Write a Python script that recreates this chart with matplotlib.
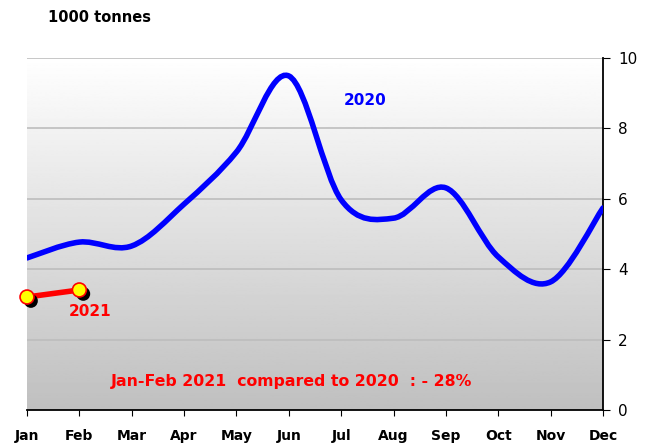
import numpy as np
import matplotlib.pyplot as plt
from matplotlib.path import Path
from matplotlib.patches import PathPatch
import matplotlib.patheffects as pe

months = ['Jan', 'Feb', 'Mar', 'Apr', 'May', 'Jun', 'Jul', 'Aug', 'Sep', 'Oct', 'Nov', 'Dec']
v2020 = [4.32, 4.77, 4.66, 5.85, 7.33, 9.49, 5.97, 5.45, 6.31, 4.35, 3.64, 5.74]
v2021 = [3.21, 3.41]
yticks = [0, 2, 4, 6, 8, 10]


def smooth_path(xs, ys, t=1/6.):
    # cubic bezier through points (catmull-rom style control points)
    n = len(xs)
    verts = [(xs[0], ys[0])]
    codes = [Path.MOVETO]
    for i in range(n - 1):
        x0, y0 = xs[max(i - 1, 0)], ys[max(i - 1, 0)]
        x1, y1 = xs[i], ys[i]
        x2, y2 = xs[i + 1], ys[i + 1]
        x3, y3 = xs[min(i + 2, n - 1)], ys[min(i + 2, n - 1)]
        verts += [(x1 + (x2 - x0) * t, y1 + (y2 - y0) * t),
                  (x2 - (x3 - x1) * t, y2 - (y3 - y1) * t),
                  (x2, y2)]
        codes += [Path.CURVE4] * 3
    return Path(verts, codes)


fig = plt.figure(figsize=(6.58, 4.43), dpi=100)
ax = fig.add_axes([27/658, 33/443, 576/658, 352/443])

x = np.arange(len(months))
ax.set_xlim(0, 11)
ax.set_ylim(0, 10)

# background gradient
grad = np.linspace(0.75, 1.0, 256).reshape(-1, 1)
ax.imshow(grad, cmap='gray', vmin=0, vmax=1, origin='lower', aspect='auto',
          extent=[0, 11, 0, 10], zorder=0)

for yv in yticks[1:]:
    ax.axhline(yv, color='#bdbdbd', lw=1.2, zorder=1)

ax.add_patch(PathPatch(smooth_path(x, v2020), fill=False, edgecolor='#0000ff',
                       lw=4, capstyle='round', zorder=3))

x21 = x[:len(v2021)]
ax.plot(x21, v2021, color='red', lw=4, zorder=4)
ax.plot(x21, v2021, ls='', marker='o', ms=10, mfc='#ffff00', mec='red', mew=1.2,
        zorder=5, clip_on=False,
        path_effects=[pe.SimplePatchShadow(offset=(2.8, -2.8), shadow_rgbFace='black', alpha=1),
                      pe.Normal()])

ax.text(6.45, 8.78, '2020', color='#0000ff', fontsize=11, fontweight='bold',
        ha='center', va='center', zorder=6)
ax.text(1.2, 2.8, '2021', color='red', fontsize=11, fontweight='bold',
        ha='center', va='center', zorder=6)
ax.text(5.05, 0.8, 'Jan-Feb 2021  compared to 2020  : - 28%', color='red',
        fontsize=11.3, fontweight='bold', ha='center', va='center', zorder=6)

fig.text(48/658, 1 - 17/443, '1000 tonnes', fontsize=10.5, fontweight='bold',
         ha='left', va='center')

ax.set_xticks(x)
ax.set_xticklabels(months, fontweight='bold', fontsize=10)
ax.yaxis.tick_right()
ax.set_yticks(yticks)
ax.tick_params(axis='y', labelsize=11, direction='out', length=5, pad=6)
ax.tick_params(axis='x', direction='out', length=4, pad=10)
for s in ['left', 'top']:
    ax.spines[s].set_visible(False)
ax.spines['right'].set_linewidth(1.3)
ax.spines['bottom'].set_linewidth(1.3)

fig.savefig('out.png', dpi=100)
